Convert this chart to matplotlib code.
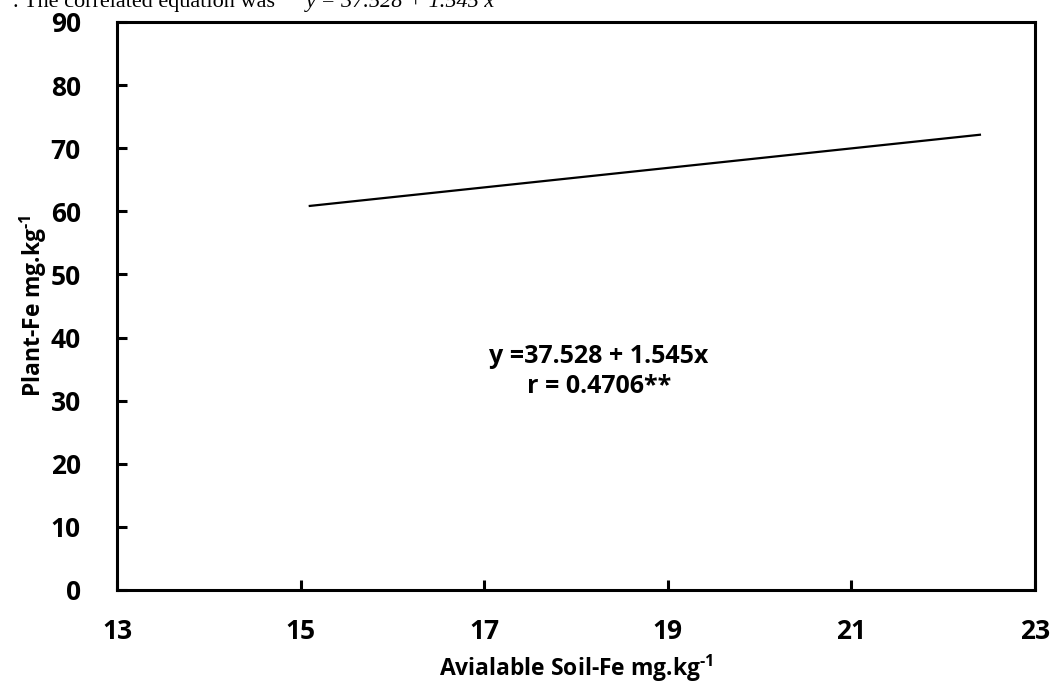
import numpy as np
import matplotlib.pyplot as plt

# regression of plant Fe on available soil Fe
intercept = 37.528
slope = 1.545
x_range = np.array([15.1, 22.4])
y_fit = intercept + slope * x_range

x_ticks = [13, 15, 17, 19, 21, 23]
y_ticks = [0, 10, 20, 30, 40, 50, 60, 70, 80, 90]

plt.rcParams['font.family'] = ['Open Sans', 'DejaVu Sans']
plt.rcParams['mathtext.fontset'] = 'custom'
plt.rcParams['mathtext.rm'] = 'Open Sans:bold'
plt.rcParams['mathtext.bf'] = 'Open Sans:bold'

fig = plt.figure(figsize=(10.53, 6.91), dpi=100)
ax = fig.add_axes([117 / 1053, 1 - 590 / 691, (1035 - 117) / 1053, (590 - 22) / 691])

ax.plot(x_range, y_fit, color='black', linewidth=1.6)

ax.set_xlim(13, 23)
ax.set_ylim(0, 90)
ax.set_xticks(x_ticks)
ax.set_yticks(y_ticks)
ax.tick_params(direction='in', length=7, width=2.2, labelsize=19)
ax.tick_params(axis='y', pad=26)
ax.tick_params(axis='x', pad=20)
for lab in ax.get_xticklabels() + ax.get_yticklabels():
    lab.set_fontweight('bold')
for s in ax.spines.values():
    s.set_linewidth(2.2)

ax.set_xlabel('Avialable Soil-Fe mg.kg$^{\\text{-1}}$', fontsize=16.5, fontweight='bold', labelpad=6)
ax.set_ylabel('Plant-Fe mg.kg$^{\\text{-1}}$', fontsize=16.5, fontweight='bold', labelpad=1)

ax.text(18.25, 37.0, 'y =37.528 + 1.545x', fontsize=18, fontweight='bold', ha='center', va='center')
ax.text(18.25, 32.3, 'r = 0.4706**', fontsize=18, fontweight='bold', ha='center', va='center')

# caption line running off the top edge
fig.text(0.012, 1 - 7 / 691, '. The correlated equation was ', family='Liberation Serif',
         fontsize=16, va='baseline', ha='left')
fig.text(0.29, 1 - 7 / 691, 'y = 37.528 + 1.545 x', family='Liberation Serif', style='italic',
         fontsize=16, va='baseline', ha='left')

fig.savefig('out.png', dpi=100)
